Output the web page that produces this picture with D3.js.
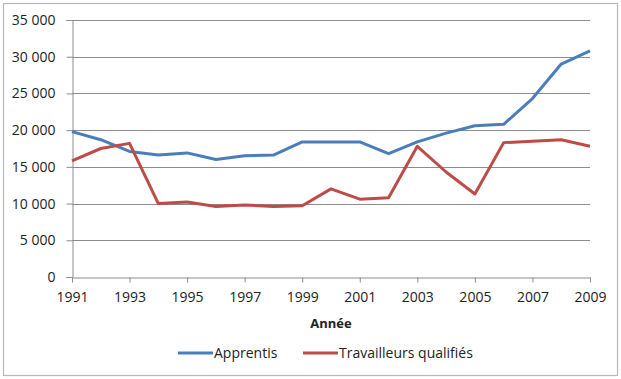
<!DOCTYPE html>
<html><head><meta charset="utf-8">
<script src="https://cdn.jsdelivr.net/npm/d3@7"></script>
<style>
body{margin:0;background:#fff;}
svg{display:block;}
text{font-family:"Open Sans","Liberation Sans",sans-serif;fill:#222;}
</style></head>
<body>
<script>
const years = [1991,1992,1993,1994,1995,1996,1997,1998,1999,2000,2001,2002,2003,2004,2005,2006,2007,2008,2009];
const apprentis = [19800,18700,17100,16600,16900,16000,16500,16600,18400,18400,18400,16800,18400,19600,20600,20800,24300,29000,30800];
const travailleurs = [15800,17500,18200,10000,10200,9600,9800,9600,9700,12000,10600,10800,17800,14300,11300,18300,18500,18700,17800];
const yTicks = [0,5000,10000,15000,20000,25000,30000,35000];
const xTicks = [1991,1993,1995,1997,1999,2001,2003,2005,2007,2009];
const seriesNames = ["Apprentis","Travailleurs qualifiés"];
const colors = ["#4a7ebb","#be4b48"];

const W=621,H=379;
const svg=d3.select("body").append("svg").attr("width",W).attr("height",H);
svg.append("rect").attr("x",3.5).attr("y",3.5).attr("width",614).attr("height",372)
  .attr("fill","#fff").attr("stroke","#b8b8b8").attr("stroke-width",1.2);

const x=d3.scaleLinear().domain([1991,2009]).range([72,590]);
const y=d3.scaleLinear().domain([0,35000]).range([277,20]);
const fmt=d=>d3.format(",")(d).replace(/,/g," ");
const FS="14px";

// gridlines
svg.append("g").selectAll("line").data(yTicks.filter(d=>d>0)).join("line")
  .attr("x1",x(1991)).attr("x2",x(2009))
  .attr("y1",d=>Math.round(y(d))+0.5).attr("y2",d=>Math.round(y(d))+0.5)
  .attr("stroke","#8c8c8c").attr("stroke-width",1);

// y axis
const ya=svg.append("g").attr("transform",`translate(${x(1991)+0.5},0)`)
  .call(d3.axisLeft(y).tickValues(yTicks).tickFormat(fmt).tickSize(6).tickPadding(11));
ya.select(".domain").attr("stroke","#8c8c8c");
ya.selectAll(".tick line").attr("stroke","#8c8c8c");
ya.selectAll("text").style("font-size",FS).attr("fill","#222");

// x axis
const xa=svg.append("g").attr("transform",`translate(0,${Math.round(y(0))+0.5})`)
  .call(d3.axisBottom(x).tickValues(xTicks).tickFormat(d3.format("d")).tickSize(5).tickPadding(10).tickSizeOuter(0));
xa.select(".domain").attr("stroke","#8c8c8c");
xa.selectAll(".tick line").attr("stroke","#8c8c8c");
xa.selectAll("text").style("font-size",FS).attr("fill","#222");

svg.append("text").attr("x",(x(1991)+x(2009))/2).attr("y",328).attr("text-anchor","middle")
  .style("font-size","13px").style("font-weight","bold").text("Année");

// lines
const line=d3.line().x((d,i)=>x(years[i])).y(d=>y(d));
[apprentis,travailleurs].forEach((s,k)=>{
  svg.append("path").datum(s).attr("d",line).attr("fill","none")
    .attr("stroke",colors[k]).attr("stroke-width",3).attr("stroke-linejoin","round");
});

// legend
const leg=[{x:178,name:seriesNames[0],c:colors[0]},{x:303,name:seriesNames[1],c:colors[1]}];
leg.forEach(l=>{
  svg.append("line").attr("x1",l.x).attr("x2",l.x+35).attr("y1",353).attr("y2",353)
    .attr("stroke",l.c).attr("stroke-width",3);
  svg.append("text").attr("x",l.x+36).attr("y",358).style("font-size",FS).text(l.name);
});
</script>
</body></html>
